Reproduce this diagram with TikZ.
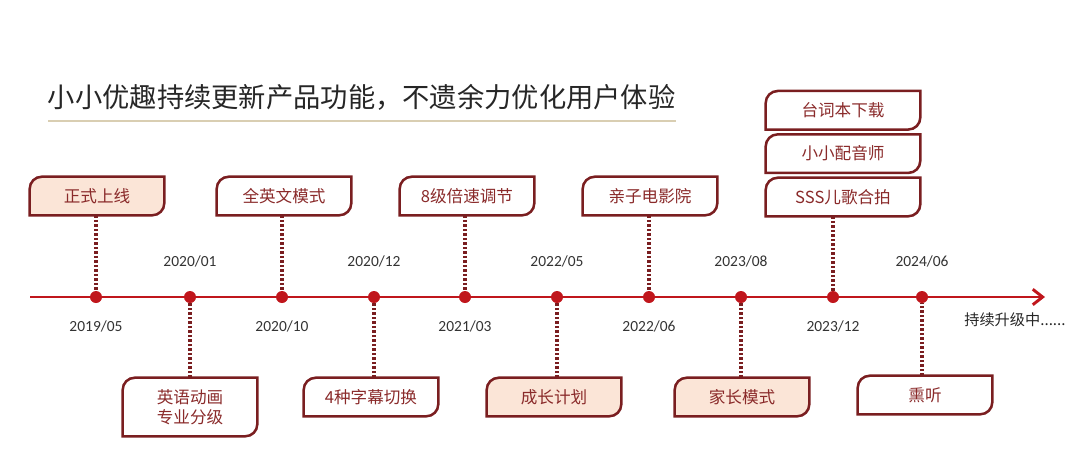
\documentclass[tikz,border=0pt]{standalone}
\usepackage{fontspec}
\setmainfont{Carlito}
\newfontfamily\cjk{Noto Sans CJK SC}
\usepackage{xcolor}
\definecolor{linered}{RGB}{192,22,28}
\definecolor{framered}{RGB}{122,30,32}
\definecolor{tagtext}{RGB}{138,42,42}
\definecolor{peach}{RGB}{251,229,215}
\definecolor{titlerule}{RGB}{217,206,178}
\usetikzlibrary{arrows.meta,positioning,calc,backgrounds}

\tikzset{
  tagnode/.style={minimum width=3.35cm,minimum height=0.95cm,inner sep=0pt,
    text=tagtext,font=\cjk\fontsize{11.8}{14.5}\selectfont,align=center},
  yeardot/.style={circle,fill=linered,inner sep=0pt,minimum size=0.3cm},
  yearlabel/.style={text=black!80,font=\fontsize{11}{12}\selectfont},
  tagstem/.style={framered,line width=2.3pt,dash pattern=on 1.8pt off 1.4pt},
  tagline/.style={framered,line width=1.8pt}
}
% 框：左上、右下是圆角
\newcommand\tagframe[2]{%
  \draw[tagline,fill=#2] (#1.south west) -- ([yshift=-0.3cm]#1.north west)
    arc[start angle=180,end angle=90,radius=0.3cm] -- (#1.north east)
    -- ([yshift=0.3cm]#1.south east)
    arc[start angle=0,end angle=-90,radius=0.3cm] -- cycle;}

\begin{document}
\begin{tikzpicture}[x=0.025cm,y=-0.025cm]
  \useasboundingbox (0,0) rectangle (1080,456);
  % 标题
  \node[anchor=west,text=black!85,font=\cjk\fontsize{19.4}{23}\selectfont] (title) at (43,97)
    {小小优趣持续更新产品功能，不遗余力优化用户体验};
  \draw[titlerule,line width=1.5pt] (48,121) -- (676,121);
  % 时间轴
  \coordinate (start) at (30,297);
  \coordinate (end) at (1045,297);
  \draw[linered,line width=2.1pt,-{Straight Barb[length=7pt,width=11pt]}] (start) -- (end);
  \foreach \x [count=\i] in {96,190,282,374,465,557,649,741,833,922}
    \node[yeardot] (d\i) at (\x,297) {};
  % 上方的框
  \node[tagnode] (b1) at (97,196) {正式上线};
  \node[tagnode] (b3) at (284,196) {全英文模式};
  \node[tagnode] (b5) at (467,196) {8级倍速调节};
  \node[tagnode] (b7) at (650,196) {亲子电影院};
  \node[tagnode,minimum width=3.85cm] (b9) at (843,197) {SSS儿歌合拍};
  \node[tagnode,minimum width=3.85cm,above=0.12cm of b9] (b9b) {小小配音师};
  \node[tagnode,minimum width=3.85cm,above=0.12cm of b9b] (b9a) {台词本下载};
  % 下方的框
  \node[tagnode,minimum height=1.45cm] (b2) at (190,407) {英语动画\\专业分级};
  \node[tagnode] (b4) at (371,397) {4种字幕切换};
  \node[tagnode] (b6) at (554,397) {成长计划};
  \node[tagnode] (b8) at (742,397) {家长模式};
  \node[tagnode] (b10) at (925,395) {熏听};
  % 日期
  \node[yearlabel,below=0.3cm of d1] {2019/05};
  \node[yearlabel,above=0.47cm of d2] {2020/01};
  \node[yearlabel,below=0.3cm of d3] {2020/10};
  \node[yearlabel,above=0.47cm of d4] {2020/12};
  \node[yearlabel,below=0.3cm of d5] {2021/03};
  \node[yearlabel,above=0.47cm of d6] {2022/05};
  \node[yearlabel,below=0.3cm of d7] {2022/06};
  \node[yearlabel,above=0.47cm of d8] {2023/08};
  \node[yearlabel,below=0.3cm of d9] {2023/12};
  \node[yearlabel,above=0.47cm of d10] {2024/06};
  \node[text=black!85,font=\cjk\fontsize{10.8}{12}\selectfont] (goon) at (1015,320) {持续升级中......};
  % 虚线和边框
  \begin{scope}[on background layer]
    \foreach \i in {1,3,5,7,9}
      \draw[tagstem] (b\i.south -| d\i) -- (d\i);
    \foreach \i in {2,4,6,8,10}
      \draw[tagstem] (b\i.north -| d\i) -- (d\i);
    \tagframe{b1}{peach}
    \tagframe{b3}{white}
    \tagframe{b5}{white}
    \tagframe{b7}{white}
    \tagframe{b9}{white}
    \tagframe{b9b}{white}
    \tagframe{b9a}{white}
    \tagframe{b2}{white}
    \tagframe{b4}{white}
    \tagframe{b6}{peach}
    \tagframe{b8}{peach}
    \tagframe{b10}{white}
  \end{scope}
\end{tikzpicture}
\end{document}
